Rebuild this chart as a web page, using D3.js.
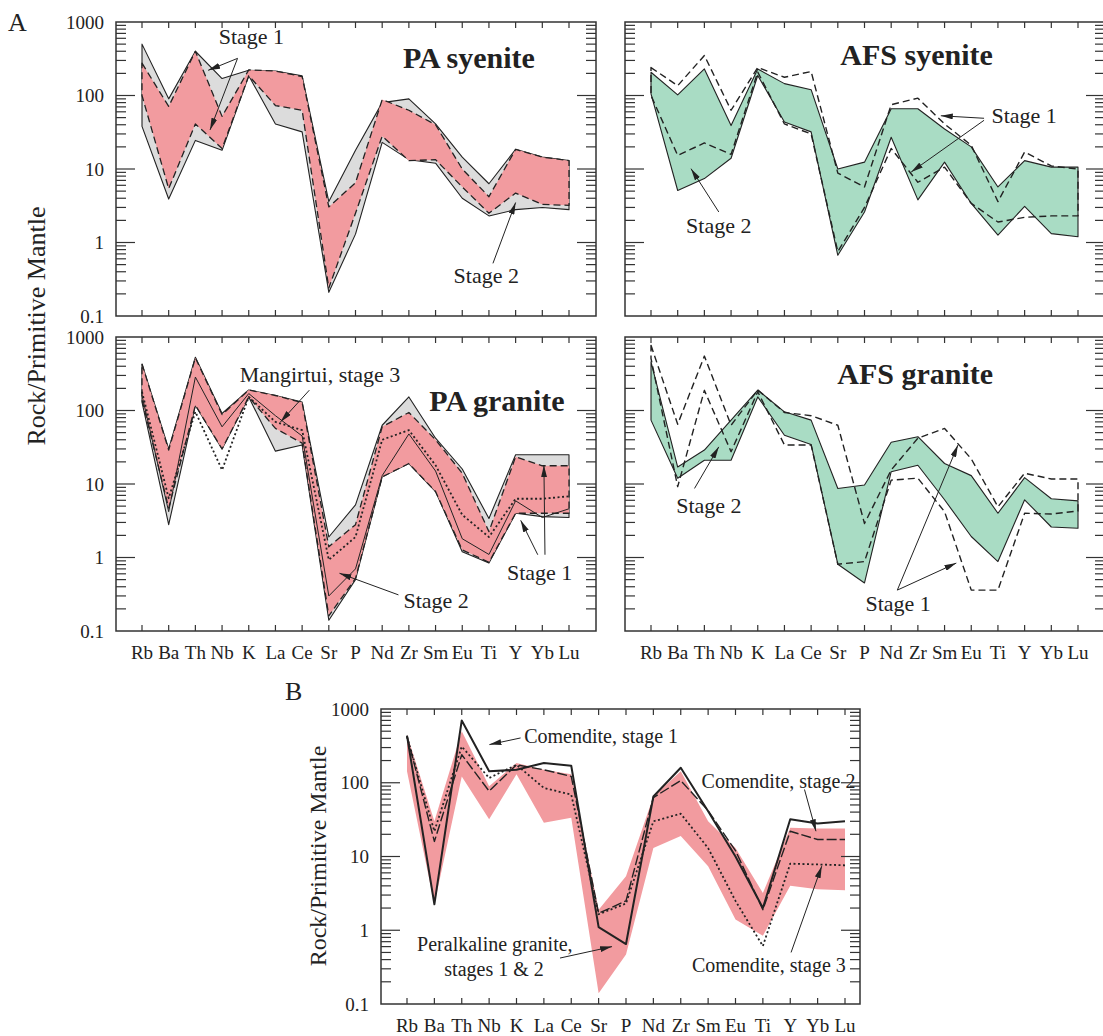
<!DOCTYPE html>
<html><head><meta charset="utf-8">
<script src="https://cdn.jsdelivr.net/npm/d3@7"></script>
<style>
body{margin:0;background:#fff}
svg{display:block}
text{font-family:"Liberation Serif","Times New Roman",serif;fill:#222}
</style>
</head><body>
<svg id="chart" width="1103" height="1036" font-family="Liberation Serif, Times New Roman, serif"></svg>
<script>
// ---------------- DATA ----------------
const elements = ["Rb","Ba","Th","Nb","K","La","Ce","Sr","P","Nd","Zr","Sm","Eu","Ti","Y","Yb","Lu"];
const yTickValues = [0.1, 1, 10, 100, 1000];
const yTickLabels = ["0.1", "1", "10", "100", "1000"];
const yAxisTitle = "Rock/Primitive Mantle";

// PA syenite
const paSyeGrayUpper = [500, 90, 400, 170, 220, 215, 185, 3.6, 18, 80, 90, 41, 14.5, 6.3, 18.5, 14.5, 13];
const paSyeGrayLower = [38, 3.9, 24.5, 18, 186, 41, 32, 0.21, 1.3, 23, 13.4, 12, 4, 2.3, 2.8, 3.0, 2.8];
const paSyePinkUpper = [275, 71, 400, 52, 223, 215, 181, 3.05, 6.5, 88, 63, 40, 10, 4.2, 18.5, 14.5, 13];
const paSyePinkLower = [100, 5.4, 41, 19, 186, 73, 63, 0.24, 2.5, 28, 13, 13.4, 5.7, 2.5, 4.7, 3.3, 3.2];

// AFS syenite
const afsSyeGreenUpper = [207, 102, 230, 39, 230, 145, 120, 10, 12.4, 66, 66, 35, 20, 5.7, 13, 10.6, 10.6];
const afsSyeGreenLower = [105, 5.1, 7.4, 14, 187, 43.5, 32, 0.67, 2.6, 27, 3.8, 12.4, 3.4, 1.26, 3.1, 1.32, 1.2];
const afsSyeDashUpper = [240, 136, 350, 63, 240, 177, 212, 8.8, 5.7, 75, 92, 41, 21, 3.6, 17, 11, 10];
const afsSyeDashLower = [100, 15.3, 22.6, 15.8, 208, 41, 30, 0.75, 3, 19, 6.6, 10.6, 3.4, 1.9, 2.2, 2.3, 2.3];

// PA granite
const paGraGrayUpper = [430, 30, 530, 91, 190, 160, 130, 1.9, 5.2, 63, 153, 42, 16, 3.4, 25, 25, 25];
const paGraGrayLower = [130, 2.8, 118, 30, 153, 28, 34, 0.14, 0.5, 12.5, 19, 7.9, 1.2, 0.84, 4, 3.6, 3.5];
const paGraPinkUpper = [430, 29, 520, 88, 190, 160, 128, 1.4, 2.8, 60, 94, 40, 14, 2.25, 23.5, 17.7, 17.7];
const paGraPinkLower = [139, 4.7, 118, 30, 153, 57, 36, 0.16, 0.52, 12.5, 19, 7.9, 1.27, 0.86, 4, 4, 4];
const paGraStage3Dotted = [180, 6.4, 96, 15.5, 153, 70, 54, 0.93, 1.9, 40, 54, 18, 3.8, 1.9, 6.3, 6.3, 6.8];
const paGraThinLine = [160, 4.2, 285, 60, 170, 85, 45, 0.3, 0.7, 13, 48, 15, 1.8, 1.1, 5.9, 3.5, 4.6];

// AFS granite
const afsGraGreenUpper = [460, 17, 29, 74, 190, 96, 74, 8.7, 9.7, 37, 44, 19, 13, 4, 12.2, 6.3, 5.9];
const afsGraGreenLower = [74, 12, 21, 21, 153, 46, 34.5, 0.81, 0.45, 14.7, 18, 6.1, 1.93, 0.88, 6.1, 2.6, 2.5];
const afsGraDashUpper = [770, 65, 550, 63, 190, 94, 85, 63, 2.9, 15.5, 42, 57, 22, 4.9, 14, 11.7, 11.7];
const afsGraDashLower = [510, 9.2, 188, 27.5, 180, 34, 34, 0.81, 0.88, 11.3, 12, 4.2, 0.36, 0.36, 4, 3.9, 4.3];

// B: peralkaline granite field and comendites
const bGraniteUpper = [450, 30, 500, 90, 185, 150, 130, 1.9, 5.4, 65, 143, 30, 13, 3.2, 24.5, 24, 24];
const bGraniteLower = [143, 2.25, 122, 32, 130, 28.6, 33.5, 0.14, 0.47, 13, 19, 7.4, 1.4, 0.84, 4, 3.6, 3.5];
const comenditeStage1 = [435, 2.25, 700, 143, 150, 185, 170, 1.1, 0.65, 65, 160, 41, 10, 2.0, 32, 28, 30];
const comenditeStage2 = [430, 16, 240, 77, 175, 150, 122, 1.7, 2.5, 63, 107, 42, 12, 1.9, 22, 17, 17];
const comenditeStage3 = [420, 22, 310, 116, 175, 85, 69, 1.65, 2.3, 30, 38, 13, 2.5, 0.61, 8, 7.8, 7.6];

// ---------------- STYLE ----------------
const PINK = "#f29b9f", GREEN = "#a9dcc4", GRAY = "#dcdcdc", INK = "#222";
const DASH = "7,4", LONGDASH = "10,3", DOT = "2,2.5";

const svg = d3.select("#chart");
const defs = svg.append("defs");
defs.append("marker").attr("id","arrow").attr("viewBox","0 0 12 6")
  .attr("refX",12).attr("refY",3).attr("markerWidth",12).attr("markerHeight",6)
  .attr("markerUnits","userSpaceOnUse").attr("orient","auto")
  .append("path").attr("d","M0,0 L12,3 L0,6 Z").attr("fill",INK);

function makePanel(cfg){
  const g = svg.append("g");
  const x = d3.scalePoint().domain(elements).range([cfg.rb, cfg.lu]);
  const step = x.step();
  const y = d3.scaleLog().domain([0.1, 1000]).range([cfg.y1, cfg.y0]);
  const fx = i => cfg.rb + i * step;
  const clipId = "clip" + Math.round(cfg.x0) + "_" + Math.round(cfg.y0);
  defs.append("clipPath").attr("id", clipId).append("rect")
    .attr("x",cfg.x0).attr("y",cfg.y0).attr("width",cfg.x1-cfg.x0).attr("height",cfg.y1-cfg.y0);
  const plot = g.append("g").attr("clip-path","url(#"+clipId+")");
  const area = d3.area().x((d,i)=>x(elements[i])).y0(d=>y(d[0])).y1(d=>y(d[1]));
  const line = d3.line().x((d,i)=>x(elements[i])).y(d=>y(d));
  const api = {
    g, x, y, fx,
    field(lower, upper, fill, dash, strokeW){
      plot.append("path").datum(d3.zip(lower, upper)).attr("d", area)
        .attr("fill", fill).attr("stroke", dash===null? "none": INK)
        .attr("stroke-width", strokeW||1.1).attr("stroke-dasharray", dash||null)
        .attr("stroke-linejoin","round");
    },
    line(vals, dash, w){
      plot.append("path").datum(vals).attr("d", line).attr("fill","none")
        .attr("stroke", INK).attr("stroke-width", w||1.2)
        .attr("stroke-dasharray", dash||null).attr("stroke-linejoin","round");
    },
    text(str, xi, v, size, bold){
      g.append("text").attr("x", fx(xi)).attr("y", y(v)).attr("text-anchor","middle")
        .attr("font-size", size).attr("font-weight", bold? "bold":"normal").text(str);
    },
    arrow(from, to){
      g.append("line").attr("x1", fx(from[0])).attr("y1", y(from[1]))
        .attr("x2", fx(to[0])).attr("y2", y(to[1]))
        .attr("stroke", INK).attr("stroke-width", 1).attr("marker-end","url(#arrow)");
    },
    frame(){
      g.append("rect").attr("x",cfg.x0).attr("y",cfg.y0).attr("width",cfg.x1-cfg.x0)
        .attr("height",cfg.y1-cfg.y0).attr("fill","none").attr("stroke","#333").attr("stroke-width",1.5);
      const minor = [];
      [0.1,1,10,100].forEach(d=>{ for(let k=2;k<=9;k++) minor.push(d*k); });
      const major = [1,10,100];
      const tk = g.append("g").attr("stroke","#333").attr("stroke-width",1.2);
      minor.forEach(v=>{
        tk.append("line").attr("x1",cfg.x0).attr("x2",cfg.x0+10).attr("y1",y(v)).attr("y2",y(v));
        tk.append("line").attr("x1",cfg.x1).attr("x2",cfg.x1-10).attr("y1",y(v)).attr("y2",y(v));
      });
      major.forEach(v=>{
        tk.append("line").attr("x1",cfg.x0).attr("x2",cfg.x0+19).attr("y1",y(v)).attr("y2",y(v));
        tk.append("line").attr("x1",cfg.x1).attr("x2",cfg.x1-19).attr("y1",y(v)).attr("y2",y(v));
      });
      elements.forEach(e=>{
        tk.append("line").attr("x1",x(e)).attr("x2",x(e)).attr("y1",cfg.y0).attr("y2",cfg.y0+6);
        tk.append("line").attr("x1",x(e)).attr("x2",x(e)).attr("y1",cfg.y1).attr("y2",cfg.y1-6);
      });
      if(cfg.yLabels){
        yTickValues.forEach((v,i)=>{
          g.append("text").attr("x",cfg.x0-12).attr("y",y(v)).attr("dy","0.35em")
            .attr("text-anchor","end").attr("font-size",cfg.tickSize).text(yTickLabels[i]);
        });
      }
      if(cfg.xLabels){
        elements.forEach(e=>{
          g.append("text").attr("x",x(e)).attr("y",cfg.y1+28).attr("text-anchor","middle")
            .attr("font-size",cfg.tickSize).text(e);
        });
      }
    }
  };
  return api;
}

// ---------------- PANELS ----------------
const TS = 19;
// A: PA syenite
const p1 = makePanel({x0:116, x1:596, y0:22, y1:316, rb:142, lu:569, yLabels:true, xLabels:false, tickSize:TS});
p1.field(paSyeGrayLower, paSyeGrayUpper, GRAY, "", 1.1);
p1.field(paSyePinkLower, paSyePinkUpper, PINK, DASH, 1.3);
p1.frame();
p1.text("PA syenite", 12.25, 240, 30, true);
p1.text("Stage 1", 4.1, 500, 22);
p1.arrow([3.58, 320], [2.48, 220]);
p1.arrow([3.58, 320], [2.55, 34]);
p1.text("Stage 2", 12.9, 0.28, 22);
p1.arrow([13.15, 0.52], [14.0, 3.5]);

// A: AFS syenite
const p2 = makePanel({x0:625, x1:1105, y0:22, y1:316, rb:651, lu:1078, yLabels:false, xLabels:false, tickSize:TS});
p2.field(afsSyeGreenLower, afsSyeGreenUpper, GREEN, "", 1.1);
p2.field(afsSyeDashLower, afsSyeDashUpper, "none", DASH, 1.4);
p2.frame();
p2.text("AFS syenite", 9.95, 256, 30, true);
p2.text("Stage 1", 13.98, 42, 22);
p2.arrow([12.48, 49], [10.86, 53]);
p2.arrow([12.48, 46], [9.75, 9.1]);
p2.text("Stage 2", 2.54, 1.34, 22);
p2.arrow([2.54, 2.6], [1.5, 10.1]);

// A: PA granite
const p3 = makePanel({x0:116, x1:596, y0:337, y1:631, rb:142, lu:569, yLabels:true, xLabels:true, tickSize:TS});
p3.field(paGraGrayLower, paGraGrayUpper, GRAY, "", 1.1);
p3.field(paGraPinkLower, paGraPinkUpper, PINK, DASH, 1.3);
p3.line(paGraThinLine, null, 1);
p3.line(paGraStage3Dotted, DOT, 1.8);
p3.frame();
p3.text("PA granite", 13.3, 100, 30, true);
p3.text("Mangirtui, stage 3", 6.67, 245, 22);
p3.arrow([6.27, 189], [5.19, 70]);
p3.text("Stage 2", 11.02, 0.205, 22);
p3.arrow([9.61, 0.31], [7.4, 0.61]);
p3.text("Stage 1", 14.9, 0.5, 22);
p3.arrow([15.1, 1.09], [15.06, 18]);
p3.arrow([14.83, 1.09], [14.19, 3.2]);

// A: AFS granite
const p4 = makePanel({x0:625, x1:1105, y0:337, y1:631, rb:651, lu:1078, yLabels:false, xLabels:true, tickSize:TS});
p4.field(afsGraGreenLower, afsGraGreenUpper, GREEN, "", 1.1);
p4.field(afsGraDashLower, afsGraDashUpper, "none", DASH, 1.4);
p4.frame();
p4.text("AFS granite", 9.9, 232, 30, true);
p4.text("Stage 2", 2.17, 4.0, 22);
p4.arrow([1.63, 8.7], [2.54, 32]);
p4.text("Stage 1", 9.26, 0.185, 22);
p4.arrow([9.23, 0.36], [11.5, 33.8]);
p4.arrow([9.23, 0.36], [11.44, 0.84]);

// B
const p5 = makePanel({x0:381, x1:860, y0:709, y1:1004, rb:407, lu:845, yLabels:true, xLabels:true, tickSize:TS});
p5.field(bGraniteLower, bGraniteUpper, PINK, null);
p5.line(comenditeStage3, DOT, 1.8);
p5.line(comenditeStage2, LONGDASH, 1.4);
p5.line(comenditeStage1, null, 2);
p5.frame();
p5.text("Comendite, stage 1", 7.09, 346, 20);
p5.arrow([4.15, 405], [3.01, 329]);
p5.text("Comendite, stage 2", 13.57, 85, 20);
p5.arrow([14.52, 81], [14.94, 22]);
p5.text("Comendite, stage 3", 13.22, 0.27, 20);
p5.arrow([14.03, 0.5], [15.15, 7.4]);
p5.text("Peralkaline granite,", 3.21, 0.53, 20);
p5.text("stages 1 & 2", 3.18, 0.24, 20);
p5.arrow([5.59, 0.42], [7.49, 0.6]);

// Panel letters and axis titles
svg.append("text").attr("x",8).attr("y",31).attr("font-size",26).text("A");
svg.append("text").attr("x",285).attr("y",700).attr("font-size",26).text("B");
svg.append("text").attr("transform","translate(36,326) rotate(-90)").attr("text-anchor","middle")
  .attr("dominant-baseline","central").attr("font-size",26).text(yAxisTitle);
svg.append("text").attr("transform","translate(318,856) rotate(-90)").attr("text-anchor","middle")
  .attr("dominant-baseline","central").attr("font-size",24).text(yAxisTitle);
</script>
</body></html>
